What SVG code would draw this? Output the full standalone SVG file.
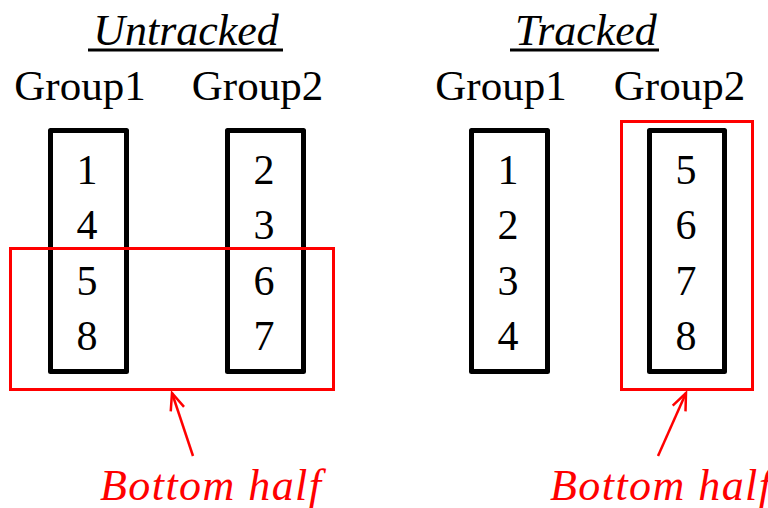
<svg xmlns="http://www.w3.org/2000/svg" width="768" height="508" viewBox="0 0 768 508">
<defs>
<style>
.t{font-family:"Liberation Serif","Times New Roman",serif;fill:#000}
.head{font-size:44px;font-style:italic;text-anchor:middle}
.grp{font-size:43px;text-anchor:middle}
.num{font-size:42px;text-anchor:middle}
.box{fill:none;stroke:#000;stroke-width:5;stroke-linejoin:round}
.sel{fill:none;stroke:#ff0000;stroke-width:3}
.ul{stroke:#000;stroke-width:3}
.lbl{font-family:"Liberation Serif","Times New Roman",serif;font-size:44px;font-style:italic;fill:#ff0000}
.con{stroke:#ff0000;stroke-width:2.5;fill:none}
</style>
<marker id="arr" viewBox="-20 -10 22 20" refX="0" refY="0" markerWidth="22" markerHeight="20" markerUnits="userSpaceOnUse" orient="auto">
<path d="M-17,-7 L0,0 L-17,7" fill="none" stroke="#ff0000" stroke-width="2.5"/>
</marker>
</defs>
<rect width="768" height="508" fill="#fff"/>

<g id="untracked-title">
<text class="t head" x="186" y="45">Untracked</text>
<line class="ul" x1="88" y1="50" x2="283" y2="50"/>
</g>
<g id="tracked-title">
<text class="t head" x="586" y="45">Tracked</text>
<line class="ul" x1="510" y1="50" x2="659" y2="50"/>
</g>

<g id="u-group1">
<text class="t grp" x="80" y="100">Group1</text>
<rect class="box" x="50.5" y="130.5" width="76" height="241"/>
<text class="t num" x="87" y="184">1</text>
<text class="t num" x="87" y="239">4</text>
<text class="t num" x="87" y="295">5</text>
<text class="t num" x="87" y="350">8</text>
</g>
<g id="u-group2">
<text class="t grp" x="257.5" y="100">Group2</text>
<rect class="box" x="227.5" y="130.5" width="76" height="241"/>
<text class="t num" x="264" y="184">2</text>
<text class="t num" x="264" y="239">3</text>
<text class="t num" x="264" y="295">6</text>
<text class="t num" x="264" y="350">7</text>
</g>
<g id="u-bottom">
<rect class="sel" x="10.5" y="248.5" width="323" height="141"/>
<text class="lbl" x="100" y="500" textLength="221">Bottom half</text>
</g>

<g id="t-group1">
<text class="t grp" x="501" y="100">Group1</text>
<rect class="box" x="471.5" y="130.5" width="76" height="241"/>
<text class="t num" x="508" y="184">1</text>
<text class="t num" x="508" y="239">2</text>
<text class="t num" x="508" y="295">3</text>
<text class="t num" x="508" y="350">4</text>
</g>
<g id="t-group2">
<text class="t grp" x="679.5" y="100">Group2</text>
<rect class="box" x="649.5" y="130.5" width="75" height="241"/>
<text class="t num" x="686" y="184">5</text>
<text class="t num" x="686" y="239">6</text>
<text class="t num" x="686" y="295">7</text>
<text class="t num" x="686" y="350">8</text>
</g>
<g id="t-bottom">
<rect class="sel" x="621.5" y="121.5" width="131" height="268"/>
<text class="lbl" x="550" y="500" textLength="221">Bottom half</text>
</g>

<g id="connectors">
<line class="con" x1="193" y1="456" x2="172" y2="393" marker-end="url(#arr)"/>
<line class="con" x1="658" y1="456" x2="686" y2="393" marker-end="url(#arr)"/>
</g>
</svg>
